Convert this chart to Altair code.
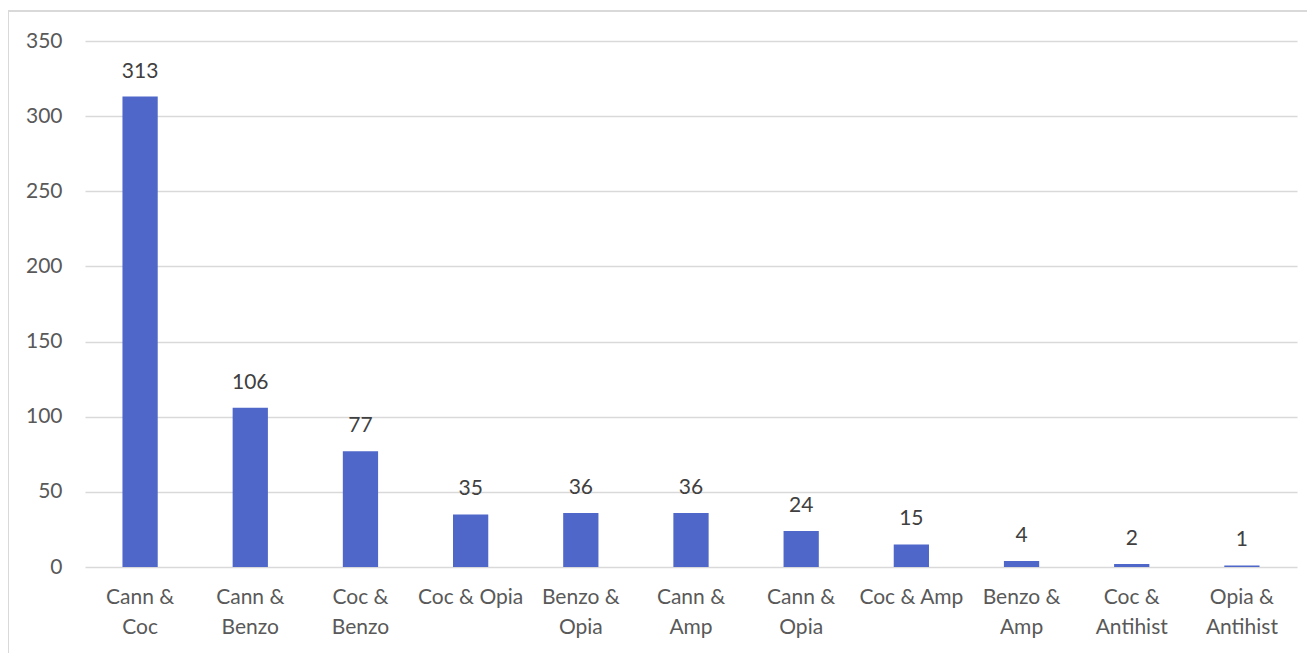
import altair as alt
import pandas as pd

categories = ["Cann &\nCoc", "Cann &\nBenzo", "Coc &\nBenzo", "Coc & Opia", "Benzo &\nOpia",
              "Cann &\nAmp", "Cann &\nOpia", "Coc & Amp", "Benzo &\nAmp", "Coc &\nAntihist",
              "Opia &\nAntihist"]
values = [313, 106, 77, 35, 36, 36, 24, 15, 4, 2, 1]

df = pd.DataFrame({"cat": categories, "val": values})

FONT = "Lato"
TXT = "#595959"
BAR = "#4F67C8"
GRID = "#D9D9D9"
FS = 21

x = alt.X("cat:N", sort=categories, title=None,
          scale=alt.Scale(paddingInner=0.68, paddingOuter=0.34),
          axis=alt.Axis(labelAngle=0, domain=False, ticks=False, labelPadding=19,
                        labelFont=FONT, labelFontSize=FS, labelColor=TXT,
                        labelLineHeight=30, labelBaseline="top",
                        labelExpr="split(datum.label, '\\n')"))
y = alt.Y("val:Q", title=None,
          scale=alt.Scale(domain=[0, 350], nice=False),
          axis=alt.Axis(values=[0, 50, 100, 150, 200, 250, 300, 350], domain=False, ticks=False,
                        gridColor=GRID, gridWidth=1.3, labelPadding=23,
                        labelFont=FONT, labelFontSize=FS, labelColor=TXT))

bars = alt.Chart(df).mark_bar(color=BAR).encode(x=x, y=y)
labels = alt.Chart(df).mark_text(font=FONT, fontSize=FS, color="#404040", baseline="middle", dy=-25).encode(
    x=alt.X("cat:N", sort=categories), y="val:Q", text="val:Q")

border = alt.Chart(df).mark_rect(fill=None, stroke=GRID, strokeWidth=1.5, clip=False).encode(
    x=alt.value(-77), x2=alt.value(1228), y=alt.value(-30), y2=alt.value(700))

chart = alt.layer(bars, labels, border).properties(
    width=1212, height=526,
    padding={"left": 77, "top": 33, "right": 10, "bottom": 120},
    autosize=alt.AutoSizeParams(type="none"),
).configure_view(stroke=None)

chart.save("out.html", embed_options={"renderer": "svg", "actions": False})
